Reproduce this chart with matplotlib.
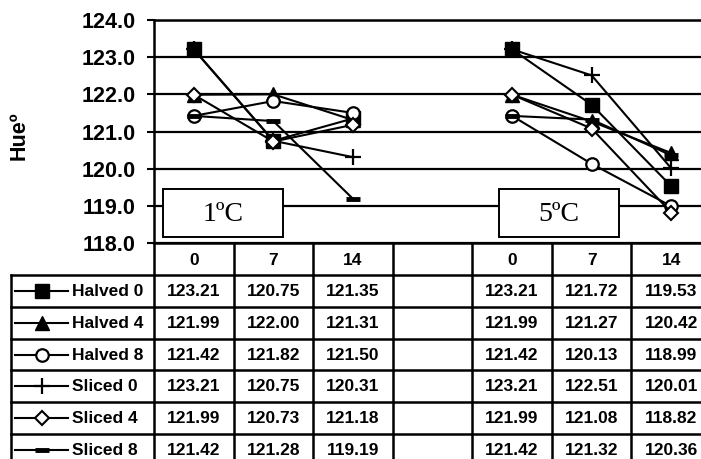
import numpy as np
import matplotlib
matplotlib.use("Agg")
import matplotlib.pyplot as plt
from matplotlib.patches import Rectangle
from matplotlib.lines import Line2D

# chart data
day_labels = ["0", "7", "14", "", "0", "7", "14"]
series_names = ["Halved 0", "Halved 4", "Halved 8", "Sliced 0", "Sliced 4", "Sliced 8"]
hue_1c = [
    [123.21, 120.75, 121.35],
    [121.99, 122.00, 121.31],
    [121.42, 121.82, 121.50],
    [123.21, 120.75, 120.31],
    [121.99, 120.73, 121.18],
    [121.42, 121.28, 119.19],
]
hue_5c = [
    [123.21, 121.72, 119.53],
    [121.99, 121.27, 120.42],
    [121.42, 120.13, 118.99],
    [123.21, 122.51, 120.01],
    [121.99, 121.08, 118.82],
    [121.42, 121.32, 120.36],
]
group_labels = ["1ºC", "5ºC"]

# marker styles per series
styles = [
    dict(marker="s", markersize=10, markerfacecolor="black"),
    dict(marker="^", markersize=10, markerfacecolor="black"),
    dict(marker="o", markersize=9, markerfacecolor="white", markeredgewidth=1.6),
    dict(marker="+", markersize=11, markeredgewidth=1.6),
    dict(marker="D", markersize=7, markerfacecolor="white", markeredgewidth=1.5),
    dict(marker="_", markersize=10, markeredgewidth=3.5),
]

W, H = 701, 459
SANS = "Liberation Sans"
SERIF = "Liberation Serif"

fig = plt.figure(figsize=(W / 100, H / 100), dpi=100)
fig.patch.set_facecolor("white")

# plot area in pixels: x 154..711 (runs past the right edge), y 20..243
ax = fig.add_axes([154 / W, (H - 243) / H, (711 - 154) / W, (243 - 20) / H])
ax.set_xlim(-0.5, len(day_labels) - 0.5)
ax.set_ylim(118, 124)
ax.set_yticks(np.arange(118, 124.5, 1))
ax.set_yticklabels([f"{v:.1f}" for v in np.arange(118, 124.5, 1)],
                   fontfamily=SANS, fontweight="bold", fontsize=15.5)
ax.set_xticks([])
ax.tick_params(axis="y", direction="out", length=5, width=1.5, pad=8)
ax.yaxis.grid(True, color="black", linewidth=1.6)
ax.set_axisbelow(True)
for side in ["left", "top", "bottom"]:
    ax.spines[side].set_linewidth(1.8)
ax.spines["right"].set_visible(False)
ax.set_ylabel("Hueº", fontfamily=SANS, fontweight="bold", fontsize=15.5)
ax.yaxis.set_label_coords(-0.224, 0.48)

x = np.arange(len(day_labels))
for name, a, b, st in zip(series_names, hue_1c, hue_5c, styles):
    y = np.array(a + [np.nan] + b)
    ax.plot(x, y, color="black", linewidth=1.5, markeredgecolor="black",
            zorder=4, clip_on=False, **st)

# temperature boxes
for i, lab in enumerate(group_labels):
    x0 = -0.387 + i * 4.22
    ax.add_patch(Rectangle((x0, 118.16), 1.51, 1.29, facecolor="white",
                           edgecolor="black", linewidth=1.4, zorder=3))
    ax.text(x0 + 0.755, 118.16 + 0.62, lab, fontfamily=SERIF, fontsize=20,
            ha="center", va="center", zorder=5)

# data table below the plot
col_w = 79.6
left_units = (154 - 11) / col_w
n_rows = len(series_names) + 1
tx = fig.add_axes([11 / W, (H - 466) / H, (711 - 11) / W, (466 - 243) / H])
tx.set_xlim(-0.5 - left_units, len(day_labels) - 0.5)
tx.set_ylim(n_rows, 0)
tx.axis("off")

lw = 1.8
for r in range(1, n_rows + 1):
    tx.add_line(Line2D([-0.5 - left_units, len(day_labels) - 0.5], [r, r],
                       color="black", linewidth=lw, clip_on=False))
for k in range(len(day_labels) + 1):
    tx.add_line(Line2D([k - 0.5, k - 0.5], [0, n_rows], color="black",
                       linewidth=lw, clip_on=False))
tx.add_line(Line2D([-0.5 - left_units] * 2, [1, n_rows], color="black",
                   linewidth=lw, clip_on=False))

for c, lab in enumerate(day_labels):
    tx.text(c, 0.55, lab, fontfamily=SANS, fontweight="bold", fontsize=12.5,
            ha="center", va="center")

px2u = 1 / col_w
for r, (name, a, b, st) in enumerate(zip(series_names, hue_1c, hue_5c, styles), start=1):
    vals = a + [None] + b
    for c, v in enumerate(vals):
        if v is None:
            continue
        tx.text(c, r + 0.52, f"{v:.2f}", fontfamily=SANS, fontweight="bold",
                fontsize=12.5, ha="center", va="center")
    # legend key
    lx0 = (15 - 154) * px2u - 0.5
    lx1 = (68 - 154) * px2u - 0.5
    tx.add_line(Line2D([lx0, lx1], [r + 0.5, r + 0.5], color="black", linewidth=1.5))
    tx.plot([(42 - 154) * px2u - 0.5], [r + 0.5], color="black",
            markeredgecolor="black", **st)
    tx.text((72 - 154) * px2u - 0.5, r + 0.52, name, fontfamily=SANS,
            fontweight="bold", fontsize=12.5, ha="left", va="center")

fig.savefig("out.png", dpi=100)
